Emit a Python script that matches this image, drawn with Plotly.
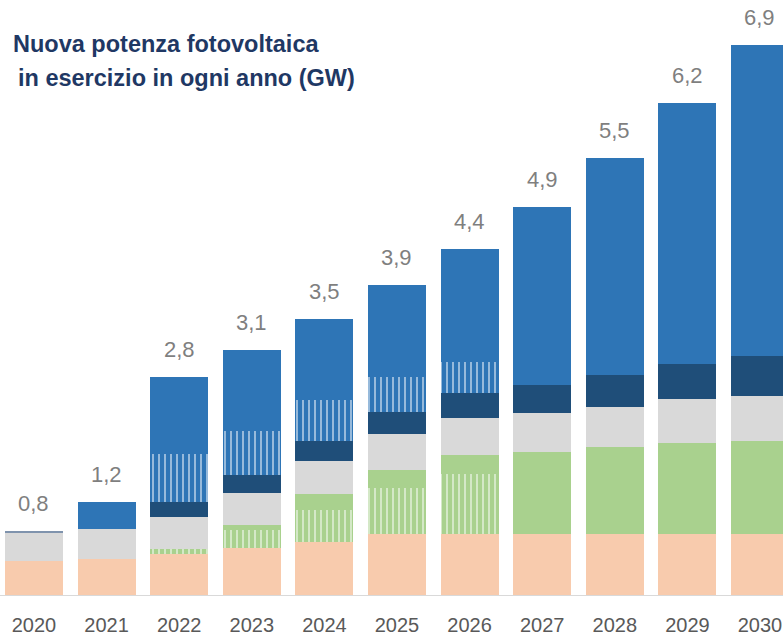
import plotly.graph_objects as go

years = ["2020", "2021", "2022", "2023", "2024", "2025", "2026", "2027", "2028", "2029", "2030"]
peach = [0.43, 0.45, 0.52, 0.59, 0.67, 0.77, 0.77, 0.77, 0.77, 0.77, 0.77]
green_hatch = [0, 0, 0.06, 0.23, 0.40, 0.58, 0.76, 0, 0, 0, 0]
green = [0, 0, 0, 0.06, 0.20, 0.23, 0.23, 1.03, 1.10, 1.15, 1.17]
grey = [0.36, 0.38, 0.40, 0.40, 0.42, 0.45, 0.47, 0.49, 0.50, 0.55, 0.57]
navy = [0.01, 0, 0.19, 0.23, 0.25, 0.28, 0.31, 0.35, 0.40, 0.44, 0.50]
blue_hatch = [0, 0, 0.60, 0.55, 0.52, 0.44, 0.40, 0, 0, 0, 0]
blue = [0, 0.34, 0.98, 1.03, 1.02, 1.15, 1.42, 2.25, 2.73, 3.29, 3.92]
total_labels = ["0,8", "1,2", "2,8", "3,1", "3,5", "3,9", "4,4", "4,9", "5,5", "6,2", "6,9"]

C_PEACH = "#F8CBAD"
C_GREEN = "#A9D18E"
C_GREY = "#D9D9D9"
C_NAVY = "#1F4E79"
C_BLUE = "#2E75B6"

series = [
    ("Serie 1", peach, C_PEACH, None),
    ("Serie 2", green_hatch, C_GREEN, "|"),
    ("Serie 3", green, C_GREEN, None),
    ("Serie 4", grey, C_GREY, None),
    ("Serie 5", navy, C_NAVY, None),
    ("Serie 6", blue_hatch, C_BLUE, "|"),
    ("Serie 7", blue, C_BLUE, None),
]

fig = go.Figure()
for name, vals, col, pat in series:
    if name == "Serie 5":
        col_list = ["#7F93AD"] + [C_NAVY] * (len(vals) - 1)
    else:
        col_list = col
    marker = dict(color=col_list, line=dict(width=0))
    if pat:
        marker["pattern"] = dict(shape=pat, fgcolor="white", bgcolor=col,
                                 size=6, solidity=1 / 3, fillmode="overlay")
    fig.add_trace(go.Bar(x=years, y=vals, name=name, marker=marker,
                         hoverinfo="skip"))

totals = [sum(v) for v in zip(peach, green_hatch, green, grey, navy, blue_hatch, blue)]
for i, (tot, lab) in enumerate(zip(totals, total_labels)):
    fig.add_annotation(x=i, y=tot, xref="x", yref="y", text=lab, showarrow=False,
                       yanchor="bottom", yshift=13,
                       font=dict(family="Liberation Sans, Arial", size=22,
                                 color="#7F7F7F"))

fig.add_annotation(xref="paper", yref="paper", x=11 / 783, y=(595 - 44) / 595,
                   xanchor="left", yanchor="middle", showarrow=False,
                   text="<b>Nuova potenza fotovoltaica</b>",
                   font=dict(family="Liberation Sans, Arial", size=23.5, color="#1F3864"))
fig.add_annotation(xref="paper", yref="paper", x=16 / 783, y=(595 - 78) / 595,
                   xanchor="left", yanchor="middle", showarrow=False,
                   text="<b>in esercizio in ogni anno (GW)</b>",
                   font=dict(family="Liberation Sans, Arial", size=23.5, color="#1F3864"))

fig.update_layout(
    barmode="stack",
    bargap=0.2,
    width=783, height=635,
    margin=dict(l=0, r=0, t=0, b=40),
    paper_bgcolor="white", plot_bgcolor="white",
    showlegend=False,
    xaxis=dict(type="category", range=[-0.468, 10.317], showgrid=False,
               showline=True, linecolor="#D9D9D9", linewidth=1, ticks="",
               ticklabelstandoff=12,
               tickfont=dict(family="Liberation Sans, Arial", size=20, color="#595959")),
    yaxis=dict(range=[0, 595 / 79.4], visible=False, showgrid=False),
)

fig.write_html("out.html", config={"displayModeBar": False},
               post_script="document.body.style.margin='0';document.body.style.overflow='hidden';")
